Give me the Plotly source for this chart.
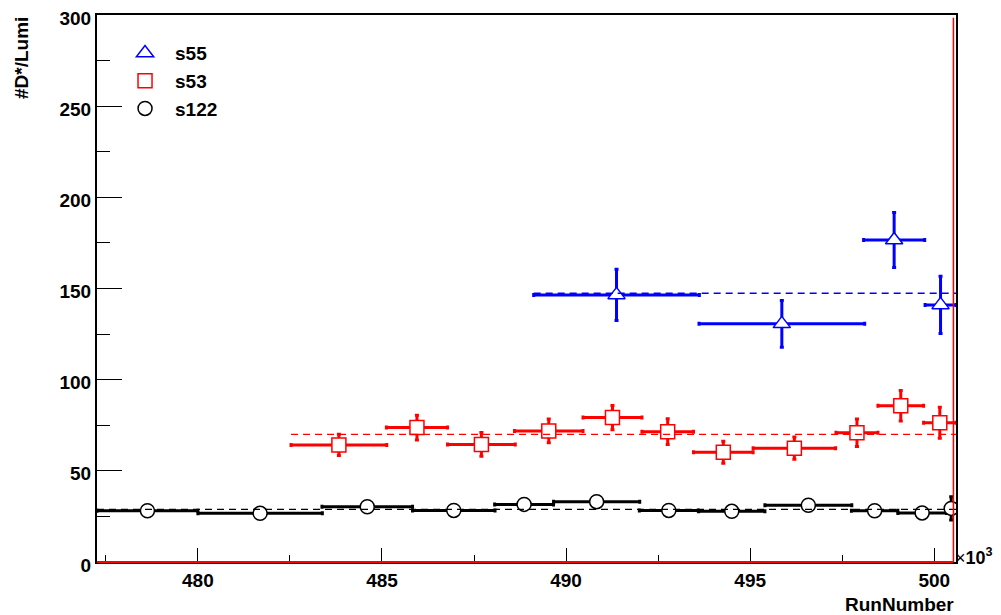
import plotly.graph_objects as go

# ---- data (x in units of 10^3 run numbers) ----
s55_x = [491.37, 495.86, 498.91, 500.17]
s55_xerr = [2.25, 2.25, 0.83, 0.42]
s55_y = [146.5, 130.6, 176.6, 141.0]
s55_yerr = [14.0, 12.8, 15.1, 15.7]

s53_x = [483.83, 485.95, 487.70, 489.53, 491.26, 492.76, 494.27, 496.20, 497.90, 499.09, 500.15]
s53_xerr = [1.30, 0.83, 0.92, 0.93, 0.80, 0.70, 0.81, 1.12, 0.57, 0.62, 0.44]
s53_y = [64.2, 73.7, 64.5, 71.9, 79.2, 71.5, 60.2, 62.4, 70.9, 85.7, 76.4]
s53_yerr = [5.8, 6.8, 6.5, 6.5, 6.6, 7.0, 6.0, 6.1, 7.5, 8.4, 8.5]

s122_x = [478.63, 481.69, 484.60, 486.95, 488.86, 490.83, 492.79, 494.50, 496.58, 498.38, 499.67, 500.46]
s122_xerr = [1.37, 1.69, 1.23, 1.12, 0.80, 1.17, 0.80, 0.90, 1.18, 0.63, 0.66, 0.13]
s122_y = [28.1, 26.7, 30.3, 28.3, 31.6, 33.1, 28.3, 27.8, 31.1, 28.1, 26.9, 29.4]
s122_yerr = [1.3, 1.4, 1.6, 1.5, 1.8, 2.0, 1.7, 1.6, 1.9, 2.2, 2.5, 6.4]

series_names = ["s55", "s53", "s122"]
fit_levels = [147.4, 70.0, 28.9]
x_tick_vals = [480, 485, 490, 495, 500]
y_tick_vals = [0, 50, 100, 150, 200, 250, 300]

x_min = s122_x[0] - s122_xerr[0]
x_max = s122_x[-1] + s122_xerr[-1]

series = [
    (s55_x, s55_xerr, s55_y, s55_yerr, "#0000ff", "triangle-up", 15),
    (s53_x, s53_xerr, s53_y, s53_yerr, "#ff0000", "square", 14),
    (s122_x, s122_xerr, s122_y, s122_yerr, "#000000", "circle", 14),
]

fig = go.Figure()
for name, (xs, xe, ys, ye, col, sym, sz) in zip(series_names, series):
    fig.add_trace(go.Scatter(
        x=xs, y=ys, name=name, mode="markers",
        marker=dict(symbol=sym, size=sz, color="white", line=dict(color=col, width=1.5)),
        error_x=dict(type="data", array=xe, visible=True, color=col, thickness=3, width=2),
        error_y=dict(type="data", array=ye, visible=True, color=col, thickness=3, width=2),
    ))

# fit lines (constant) drawn on top
for name, (xs, xe, ys, ye, col, sym, sz), lvl in zip(series_names, series, fit_levels):
    x0 = xs[0] - xe[0]
    fig.add_trace(go.Scatter(
        x=[x0, x_max], y=[lvl, lvl], mode="lines", showlegend=False,
        line=dict(color=col, width=1.3, dash="7px,5px"), hoverinfo="skip",
    ))

font_b = dict(family="Liberation Sans, Arial, sans-serif", size=19, color="black", weight="bold")

# page body has an 8px default margin: figure is offset by 8px right/down
fig.update_layout(
    width=993, height=607,
    margin=dict(l=89, r=45, t=7, b=53, autoexpand=False),
    paper_bgcolor="white", plot_bgcolor="white",
    showlegend=True,
    legend=dict(x=0.021, y=0.965, xanchor="left", yanchor="top",
                bgcolor="rgba(0,0,0,0)", borderwidth=0, itemwidth=50,
                font=dict(family="Liberation Sans, Arial, sans-serif", size=19, color="black", weight="bold"),
                traceorder="normal"),
    xaxis=dict(range=[x_min, x_max], tickvals=x_tick_vals, ticks="inside", ticklen=14,
               tickwidth=1, tickcolor="black", showgrid=False, zeroline=False, automargin=False,
               showline=True, linecolor="black", linewidth=2, mirror=True,
               tickfont=font_b,
               minor=dict(dtick=2.5, tick0=480, ticks="inside", ticklen=7, tickcolor="black", showgrid=False)),
    yaxis=dict(range=[0, 300], tickvals=y_tick_vals, ticks="inside", ticklen=25,
               tickwidth=1, tickcolor="black", showgrid=False, zeroline=False, automargin=False,
               showline=True, linecolor="black", linewidth=2, mirror=True,
               tickfont=font_b, ticklabeloverflow="allow", ticklabelshift=3,
               minor=dict(dtick=25, tick0=0, ticks="inside", ticklen=13, tickcolor="black", showgrid=False)),
    shapes=[
        dict(type="line", xref="paper", yref="paper", x0=0, x1=0.997, y0=0, y1=0,
             line=dict(color="#ff0000", width=2)),
        dict(type="line", xref="paper", yref="paper", x0=0.997, x1=0.997, y0=0, y1=0.995,
             line=dict(color="#ff0000", width=1.5)),
    ],
    annotations=[
        dict(text="#D*/Lumi", xref="paper", yref="paper", x=-0.0885, y=1.0,
             xanchor="center", yanchor="top", textangle=-90, showarrow=False, font=font_b),
        dict(text="RunNumber", xref="paper", yref="paper", x=1.0, y=-0.0786,
             xanchor="right", yanchor="middle", showarrow=False, font=font_b),
        dict(text="×<b>10<sup>3</sup></b>", xref="paper", yref="paper", x=1.0, y=0.0,
             xanchor="left", yanchor="bottom", xshift=-2, yshift=-7, showarrow=False,
             borderpad=0,
             font=dict(family="Liberation Sans, Arial, sans-serif", size=18, color="black")),
    ],
)

fig.write_html("out.html")
